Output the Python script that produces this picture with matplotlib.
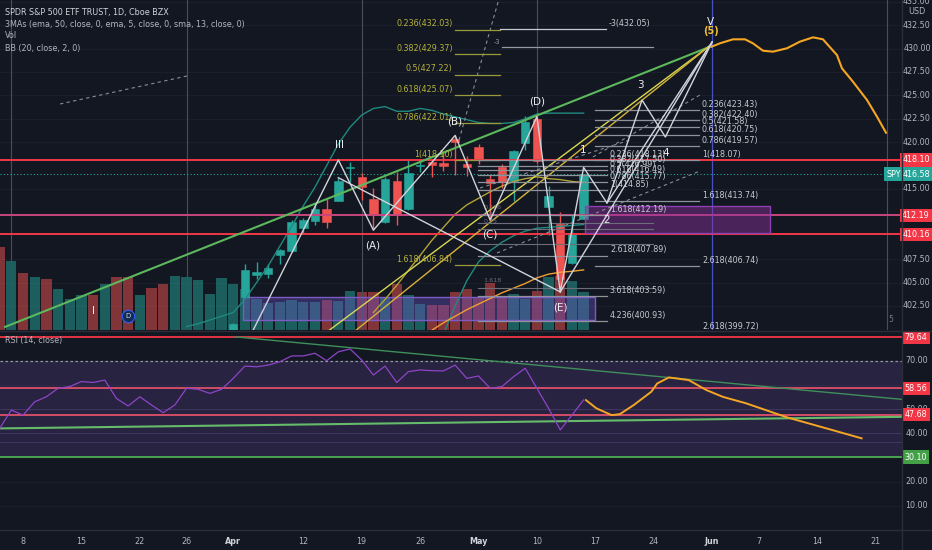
import matplotlib
matplotlib.use("Agg")
import matplotlib.pyplot as plt
from matplotlib.lines import Line2D

plt.rcParams['font.family'] = ['Liberation Sans Narrow', 'DejaVu Sans']

BG = '#131722'
TXT = '#b2b5be'
UP = '#26a69a'
DN = '#ef5350'
RED_LINE = '#f23645'

# ---- values, bar index 0 = 8 Mar 2021 ----
bars = list(range(-2, 49))
opens = [381.22, 380.46, 384.66, 385.85, 389.69, 392.23, 392.07, 394.33, 397.07, 394.53,
         394.48, 389.88, 390.03, 391.91, 391.00, 387.34, 390.93, 394.40, 394.42, 395.34,
         398.40, 403.46, 405.76, 405.94, 407.93, 408.39, 410.85, 411.53, 412.83, 413.74,
         417.25, 416.26, 413.91, 411.51, 415.89, 412.87, 417.44, 417.93, 417.81, 420.32,
         417.63, 419.43, 416.07, 417.38, 415.83, 419.89, 422.50, 413.10, 411.23, 407.07,
         411.80]
highs = [384.00, 384.76, 387.68, 389.91, 391.40, 395.65, 394.21, 396.69, 397.83, 398.12,
         396.72, 391.57, 394.07, 393.46, 392.75, 390.89, 396.41, 396.75, 395.45, 398.00,
         400.67, 406.94, 407.24, 406.96, 408.58, 411.67, 411.93, 413.53, 413.96, 416.16,
         417.91, 416.74, 415.09, 416.29, 416.78, 418.25, 418.22, 418.14, 419.01, 420.72,
         418.54, 419.84, 416.60, 417.63, 419.21, 422.82, 422.74, 415.27, 412.59, 412.35,
         416.60]
lows = [371.88, 372.64, 381.42, 385.31, 388.17, 391.74, 391.20, 392.03, 394.11, 393.30,
        390.75, 387.15, 389.97, 388.66, 387.47, 383.00, 390.29, 392.81, 393.02, 395.31,
        398.18, 403.38, 405.40, 405.45, 406.93, 408.26, 410.20, 411.12, 410.87, 413.69,
        415.73, 413.79, 410.59, 411.36, 411.13, 412.79, 416.81, 416.30, 416.90, 416.44,
        416.34, 417.67, 411.67, 415.15, 413.68, 419.16, 417.81, 410.06, 404.00, 407.02,
        411.77]
closes = [376.70, 383.63, 381.72, 387.17, 389.58, 393.53, 394.06, 396.41, 395.91, 397.26,
          391.48, 389.48, 392.59, 389.50, 387.52, 389.70, 395.98, 395.78, 394.73, 396.33,
          400.61, 406.36, 406.12, 406.59, 408.52, 411.49, 411.64, 412.86, 411.45, 415.87,
          417.26, 415.21, 412.17, 416.07, 412.27, 416.74, 417.61, 417.52, 417.40, 420.06,
          417.30, 418.20, 415.62, 415.75, 419.07, 422.12, 417.94, 414.21, 405.41, 410.28,
          416.58]
volume = [111, 92, 76, 70, 68, 55, 41, 47, 47, 61, 71, 70, 47, 56, 61, 72, 71, 67, 48, 69,
          61, 55, 41, 36, 37, 40, 37, 37, 40, 39, 52, 50, 51, 43, 61, 46, 35, 33, 33, 50,
          54, 42, 62, 42, 48, 41, 52, 71, 72, 65, 51]
rsi = [42.0, 49.6, 47.5, 53.0, 55.1, 58.6, 59.3, 61.4, 61.0, 62.0, 54.4, 51.3, 55.1, 51.7,
       48.5, 51.7, 58.6, 58.2, 56.5, 58.2, 62.7, 67.8, 67.5, 68.2, 69.6, 72.0, 72.0, 73.1,
       70.0, 73.7, 74.9, 70.3, 64.1, 67.8, 61.0, 65.5, 66.2, 65.9, 65.8, 68.2, 62.7, 63.7,
       58.6, 59.3, 63.4, 66.9, 58.6, 50.3, 41.4, 47.5, 53.8]

bb_upper_start = 14
bb_upper = [400.3, 400.6, 401.0, 401.4, 401.8, 403.2, 405.0, 406.8, 408.9, 411.0, 413.2,
            415.2, 417.5, 419.8, 421.6, 422.9, 423.6, 423.8, 423.3, 423.3, 423.6, 423.4,
            423.0, 422.7, 422.4, 422.1, 422.0, 422.0, 422.1, 422.5, 423.0, 423.1, 423.1,
            423.1, 423.1]
teal_low_start = 36
teal_low = [399.5, 402.5, 405.2, 407.2, 408.4, 409.3, 410.0, 410.5, 410.8, 410.9, 411.0,
            411.1, 411.2]
basis_start = 30
basis = [401.8, 403.2, 404.7, 406.3, 407.9, 409.5, 410.9, 412.3, 413.3, 414.0, 414.7,
         415.3, 415.8, 416.1, 416.3, 416.1, 416.0, 415.8, 415.7]
ema50_start = 35
ema50 = [399.9, 400.7, 401.4, 402.1, 402.7, 403.3, 403.9, 404.4, 404.9, 405.5, 405.9,
         406.1, 406.2, 406.35]

# projected path (orange) on price and RSI
proj_x = [58.96, 59.67, 60.79, 61.82, 62.5, 63.36, 64.21, 65.41, 66.52, 67.64, 68.49,
          69.69, 70.12, 71.06, 72.26, 73.12, 73.89]
proj_y = [430.20, 430.56, 430.99, 430.99, 430.56, 429.77, 429.67, 430.03, 430.74, 431.2,
          430.99, 429.31, 427.89, 426.46, 424.51, 422.72, 421.01]
rsi_proj_x = [48.2, 49.1, 50.4, 51.1, 52.3, 53.8, 54.3, 55.3, 57.0, 58.5, 59.9, 61.9,
              65.4, 68.8, 71.8]
rsi_proj_y = [53.7, 50.3, 47.5, 47.9, 51.7, 57.2, 60.6, 63.1, 62.0, 57.9, 55.1, 52.4,
              46.6, 42.0, 37.9]

# wave count
wave_x = [19.7, 27.0, 30.0, 37.0, 40.0, 44.0, 46.0, 48.0, 50.0, 53.0, 55.0, 59.0]
wave_y = [399.9, 418.1, 410.6, 420.72, 411.67, 422.74, 404.0, 417.3, 413.5, 424.5,
          420.55, 430.7]
wave_lbl = ['III', '(A)', '(B)', '(C)', '(D)', '(E)', '1', '2', '3', '4']
wave_lbl_x = [27.1, 29.9, 37.0, 40.0, 44.0, 46.0, 48.0, 50.0, 52.9, 55.0]
wave_lbl_y = [419.7, 409.0, 422.2, 410.1, 424.3, 402.3, 419.2, 411.7, 426.1, 418.8]

# trend lines  (x0, y0, x1, y1)
green_tl = (-1.54, 400.26, 58.82, 430.2)
yellow_a = (26.0, 399.7, 58.9, 430.4)
yellow_b = (28.3, 399.7, 58.9, 430.4)
white_extra = [(27.0, 416.2, 46.0, 404.0), (50.0, 413.5, 59.0, 430.7),
               (46.0, 404.0, 59.0, 430.7)]
dashed = [(3.17, 424.08, 14.04, 427.07), (37.33, 420.23, 40.84, 435.7),
          (40.58, 408.16, 57.96, 416.92), (39.13, 415.1, 51.97, 420.23),
          (48.8, 418.42, 57.96, 425.04)]
rsi_down = (18.15, 79.9, 75.3, 54.0)
rsi_up = (-1.97, 42.0, 75.3, 46.8)

# horizontal levels
h_levels = [418.10, 412.19, 410.16]
h_colors = [RED_LINE, '#c8457e', RED_LINE]
last_price = 416.58
rsi_levels = [79.64, 58.56, 47.68, 30.10]
rsi_colors = [RED_LINE, '#e0506a', '#e0506a', '#4caf50']
cycle_bars = [-1, 14, 29, 44, 74]

# fib drawings: ratio, price, and bar span of each set
olive_ratio = ['0.236', '0.382', '0.5', '0.618', '0.786', '1', '1.618']
olive_price = [432.03, 429.37, 427.22, 425.07, 422.01, 418.10, 406.84]
olive_span = (36.99, 40.84)
top_ratio = ['-3']
top_price = [432.05]
top_span = (40.84, 49.9)
fib2_ratio = ['0.236', '0.382', '0.5', '0.618', '0.786', '1', '1.618', '2.618', '2.618']
fib2_price = [423.43, 422.40, 421.58, 420.75, 419.57, 418.07, 413.74, 406.74, 399.72]
fib2_span = (48.97, 57.88)
fib3_ratio = ['0.236', '0.382', '0.5', '0.618', '0.786', '1', '1.618', '2.618', '3.618',
              '4.236']
fib3_price = [418.13, 417.50, 416.99, 416.49, 415.77, 414.85, 412.19, 407.89, 403.59,
              400.93]
fib3_span = (38.96, 50.0)
small_price = [411.40, 410.72, 409.09, 404.45]
small_span = (38.96, 53.94)
small_ratio = ['0.236', '0.5', '0.75', '1.618']
small_lbl_y = [413.07, 412.22, 411.47, 405.17]

price_ticks = [402.5, 405, 407.5, 415, 420, 422.5, 425, 427.5, 430, 432.5, 435]
rsi_ticks = [10, 20, 40, 50, 70]
date_pos = [0, 5, 10, 14, 18, 24, 29, 34, 39, 44, 49, 54, 59, 63, 68, 73]
date_lbl = ['8', '15', '22', '26', 'Apr', '12', '19', '26', 'May', '10', '17', '24',
            'Jun', '7', '14', '21']

P_LO, P_HI = 399.93, 435.19
X_LO, X_HI = -1.97, 75.26

fig = plt.figure(figsize=(9.32, 5.5), dpi=100, facecolor=BG)
ax = fig.add_axes([0, 220 / 550, 902 / 932, 330 / 550], facecolor=BG)
axr = fig.add_axes([0, 20 / 550, 902 / 932, 198 / 550], facecolor=BG)
for a in (ax, axr):
    a.set_xlim(X_LO, X_HI)
    for s in a.spines.values():
        s.set_visible(False)
    a.set_xticks([])
    a.set_yticks([])
ax.set_ylim(P_LO, P_HI)
axr.set_ylim(-0.04, 81.9)

# faint grid
for p in price_ticks:
    ax.axhline(p, color='#1b1f2b', lw=0.8, zorder=0)
for r in [10, 20, 30, 40, 50, 60, 70]:
    axr.axhline(r, color='#1b1f2b', lw=0.8, zorder=0)

# volume overlay
vscale = (P_HI - P_LO) / 440.0
vcol = [UP if c >= o else DN for o, c in zip(opens, closes)]
ax.bar(bars, [v * vscale for v in volume], bottom=P_LO, width=0.88, color=vcol,
       alpha=0.5, zorder=1)
ax.add_patch(plt.Rectangle((18.84, 401.0), 30.13, 2.46, fc=(0.42, 0.33, 0.78, 0.38),
                           ec='#7c5cc4', lw=1, zorder=2))

# cycle lines
for b in cycle_bars:
    ax.axvline(b, color='#4a4e5a', lw=0.8, zorder=1)
ax.axvline(59, color='#4452c6', lw=0.9, zorder=1)

# candles
for i, o, h, l, c in zip(bars, opens, highs, lows, closes):
    col = UP if c >= o else DN
    ax.vlines(i, l, h, color=col, lw=1, zorder=3)
    ax.add_patch(plt.Rectangle((i - 0.36, min(o, c)), 0.72, max(abs(c - o), 0.06),
                               fc=col, ec=col, lw=0.4, zorder=3))

# moving averages / bands
ax.plot(range(bb_upper_start, bb_upper_start + len(bb_upper)), bb_upper,
        color='#1f8a80', lw=1, zorder=4)
ax.plot(range(teal_low_start, teal_low_start + len(teal_low)), teal_low,
        color='#1f8a80', lw=1, zorder=4)
ax.plot(range(basis_start, basis_start + len(basis)), basis, color='#b3a335', lw=1, zorder=4)
ax.plot(range(ema50_start, ema50_start + len(ema50)), ema50, color='#f0a030', lw=1, zorder=4)

# horizontal levels
for lv, col in zip(h_levels, h_colors):
    ax.axhline(lv, color=col, lw=1.4, zorder=4)
ax.axhline(last_price, color=UP, lw=0.8, ls=(0, (1, 2)), zorder=4)
ax.add_patch(plt.Rectangle((48.12, 410.3), 15.84, 2.88, fc=(0.55, 0.2, 0.62, 0.45),
                           ec='#8e3fb0', lw=1, zorder=5))

# trend lines
ax.plot(green_tl[::2], green_tl[1::2], color='#5cb85c', lw=1.5, zorder=5)
ax.plot(yellow_a[::2], yellow_a[1::2], color='#d8d850', lw=1, zorder=5)
ax.plot(yellow_b[::2], yellow_b[1::2], color='#d6b23a', lw=1, zorder=5)
for d in dashed:
    ax.plot(d[::2], d[1::2], color='#8a8d96', lw=0.8, ls=(0, (3, 3)), zorder=5)

# fib drawings
fs = 5.8


def fib_set(ratios, prices, span, line_col, text_col, ha='left'):
    x0, x1 = span
    for r, p in zip(ratios, prices):
        ax.plot([x0, x1], [p, p], color=line_col, lw=0.9, zorder=5)
        tx = x1 + 0.25 if ha == 'left' else x0 - 0.2
        ax.annotate(f'{r}({p:.2f})', (tx, p), xytext=(0, 0.8), textcoords='offset points',
                    color=text_col, fontsize=fs, ha=ha, va='bottom', zorder=6,
                    annotation_clip=False)


fib_set(olive_ratio, olive_price, olive_span, '#9a9a3a', '#b5b23c', ha='right')
fib_set(top_ratio, top_price, top_span, '#c8cad0', '#c8cad0')
fib_set(fib2_ratio, fib2_price, fib2_span, '#8f929b', '#c8cad0')
fib_set(fib3_ratio, fib3_price, fib3_span, '#8f929b', '#c8cad0')
ax.plot([40.98, 53.94], [430.2, 430.2], color='#9598a1', lw=0.9, zorder=5)
ax.text(40.84, 430.7, '-3', color='#9598a1', fontsize=4.8, ha='right', va='center', zorder=6)
for p in small_price:
    ax.plot(small_span, [p, p], color='#6b6e78', lw=0.8, zorder=5)
for ty, tx in zip(small_lbl_y, small_ratio):
    ax.text(39.4, ty, tx, color='#6b6e78', fontsize=4.6, va='center', zorder=6)

# wave count
ax.plot(wave_x, wave_y, color='#d1d4dc', lw=1, zorder=6)
for w in white_extra:
    ax.plot(w[::2], w[1::2], color='#d1d4dc', lw=1, zorder=6)
for tx, x, y in zip(wave_lbl, wave_lbl_x, wave_lbl_y):
    ax.text(x, y, tx, color='#eceef2', fontsize=7.5, ha='center', va='center', zorder=7)
ax.text(58.9, 431.9, '(5)', color='#f2c230', fontsize=7, fontweight='bold',
        ha='center', va='center', zorder=7)
ax.text(58.9, 432.8, 'V', color='#eceef2', fontsize=7.5, ha='center', va='center', zorder=8)
ax.text(6.0, 401.96, 'I', color='#eceef2', fontsize=7.5, ha='center', va='center', zorder=7)
ax.plot([9], [401.43], marker='o', ms=9, mfc='#132c55', mec='#2962ff', mew=0.8, zorder=7)
ax.text(9, 401.43, 'D', color='#d1d4dc', fontsize=5, ha='center', va='center', zorder=8)
ax.text(74.3, 401.0, '5', color='#787b86', fontsize=5.5, ha='center', va='center', zorder=7)

# projection
ax.plot(proj_x, proj_y, color='#f5a623', lw=1.5, zorder=7)

# ---- RSI panel ----
axr.axhspan(30.1, 70, color='#7e57c2', alpha=0.2, lw=0, zorder=0)
for r in [49.9, 40.0, 36.5]:
    axr.axhline(r, color='#3e3560', lw=0.8, zorder=1)
axr.axhline(70, color='#9598a1', lw=0.9, ls=(0, (2, 2)), zorder=2)
for lv, col in zip(rsi_levels, rsi_colors):
    axr.axhline(lv, color=col, lw=1.3, zorder=3)
axr.plot(rsi_down[::2], rsi_down[1::2], color='#3f8f5a', lw=1, zorder=3)
axr.plot(rsi_up[::2], rsi_up[1::2], color='#66bb6a', lw=1.5, zorder=3)
axr.plot(bars, rsi, color='#8e44c8', lw=0.9, zorder=4)
axr.plot(rsi_proj_x, rsi_proj_y, color='#f5a623', lw=1.4, zorder=5)


# ---- right scale ----
def axis_box(a, y, txt, fc, x=1.0155):
    a.text(x, y, txt, transform=a.get_yaxis_transform(), ha='center', va='center',
           color='white', fontsize=fs, zorder=10, clip_on=False,
           bbox=dict(boxstyle='square,pad=0.28', fc=fc, ec='none'))


for p in price_ticks:
    ax.text(1.0165, p, f'{p:.2f}', transform=ax.get_yaxis_transform(), ha='center',
            va='center', color=TXT, fontsize=fs, clip_on=False)
ax.text(1.0165, 434.0, 'USD', transform=ax.get_yaxis_transform(), ha='center',
        va='center', color=TXT, fontsize=fs, clip_on=False)
for lv in h_levels:
    axis_box(ax, lv, f'{lv:.2f}', RED_LINE)
axis_box(ax, last_price, f'{last_price:.2f}', UP)
axis_box(ax, last_price, 'SPY', UP, x=0.991)

for r in rsi_ticks:
    axr.text(1.0165, r, f'{r:.2f}', transform=axr.get_yaxis_transform(), ha='center',
             va='center', color=TXT, fontsize=fs, clip_on=False)
for lv in rsi_levels[:3]:
    axis_box(axr, lv, f'{lv:.2f}', RED_LINE)
axis_box(axr, rsi_levels[3], f'{rsi_levels[3]:.2f}', '#43a047')

for x, lbl in zip(date_pos, date_lbl):
    bold = lbl in ('Apr', 'May', 'Jun')
    axr.text(x, -0.0556, lbl, transform=axr.get_xaxis_transform(), ha='center',
             va='center', color='#d1d4dc' if bold else TXT, fontsize=fs,
             fontweight='bold' if bold else 'normal', clip_on=False)

# panel separators
for yf in (1 - 331 / 550, 1 - 530 / 550):
    fig.add_artist(Line2D([0, 1], [yf, yf], color='#2a2e39', lw=1))
fig.add_artist(Line2D([902 / 932] * 2, [0, 1], color='#2a2e39', lw=1))

# legends
legend = ['SPDR S&P 500 ETF TRUST, 1D, Cboe BZX',
          '3MAs (ema, 50, close, 0, ema, 5, close, 0, sma, 13, close, 0)',
          'Vol', 'BB (20, close, 2, 0)']
for k, line in enumerate(legend):
    fig.text(5 / 932, 1 - (12 + 12 * k) / 550, line, color='#d1d4dc' if k == 0 else TXT,
             fontsize=fs, va='center')
fig.text(5 / 932, 1 - 340 / 550, 'RSI (14, close)', color=TXT, fontsize=fs, va='center')

fig.savefig('out.png', dpi=100, facecolor=BG)
